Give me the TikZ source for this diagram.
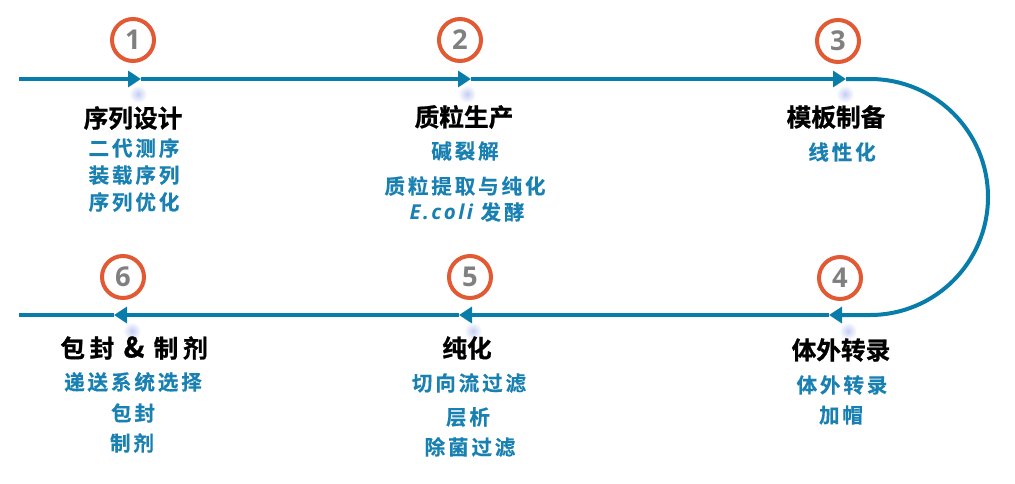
\documentclass[tikz,border=0pt]{standalone}
\usepackage{fontspec}
\newfontfamily\cjk{Noto Sans CJK SC Bold}[FakeBold=0.9]
\newfontfamily\cjksub{Noto Sans CJK SC Bold}[LetterSpace=14,FakeBold=0.4]
\newfontfamily\numfont{Open Sans Bold}
\newfontfamily\ecolifont{Open Sans Bold Italic}[LetterSpace=12]
\usetikzlibrary{arrows.meta}
\definecolor{flowblue}{RGB}{8,125,170}
\definecolor{subblue}{RGB}{25,128,178}
\definecolor{ringred}{RGB}{226,90,52}
\definecolor{numgray}{RGB}{128,128,128}
\definecolor{glow}{RGB}{196,206,244}
\begin{document}
\begin{tikzpicture}[x=0.75pt,y=-0.75pt,
  flow/.style={draw=flowblue,line width=3pt},
  tip/.style={-{Triangle[length=9.75pt,width=12pt]}},
  ring/.style={circle,draw=ringred,line width=3pt,fill=white,minimum size=31.5pt,inner sep=0pt,
    font=\numfont\fontsize{20.5}{20.5}\selectfont,text=numgray},
  title/.style={font=\cjk\fontsize{18.5}{20}\selectfont,text=black,inner sep=0pt},
  sub/.style={font=\cjksub\fontsize{15.4}{16}\selectfont,text=subblue,inner sep=0pt}]
\useasboundingbox (0,0) rectangle (1015,483);
% path coordinates
\coordinate (L1) at (19,79);
\coordinate (A1) at (141,79);
\coordinate (A2) at (471,79);
\coordinate (A3) at (846,79);
\coordinate (R1) at (870,79);
\coordinate (A4) at (829,315);
\coordinate (A5) at (459,315);
\coordinate (A6) at (114,315);
\coordinate (L2) at (19,315);
% glows
\foreach \gx/\gy in {138/94,467/94,845/94,848/331,473/331,132/331}
  \shade[inner color=glow,outer color=white] (\gx,\gy) circle[radius=9];
% flow line
\draw[flow,tip] (L1) -- (A1);
\draw[flow,tip] (A1) -- (A2);
\draw[flow,tip] (A2) -- (A3);
\draw[flow,tip] (A3) -- (R1) arc[start angle=-90,end angle=90,radius=118] -- (A4);
\draw[flow,tip] (A4) -- (A5);
\draw[flow,tip] (A5) -- (A6);
\draw[flow] (A6) -- (L2);
% rings
\node[ring] (n1) at (133,40) {1};
\node[ring] (n2) at (460,40) {2};
\node[ring] (n3) at (838,41) {3};
\node[ring] (n4) at (840,278) {4};
\node[ring] (n5) at (470,277) {5};
\node[ring] (n6) at (123,277) {6};
% block 1
\node[title] (t1) at (133,118) {序列设计};
\node[sub] (s1a) at (134,148) {二代测序};
\node[sub] (s1b) at (134,175) {装载序列};
\node[sub] (s1c) at (134,202) {序列优化};
% block 2
\node[title] (t2) at (464,117) {质粒生产};
\node[sub] (s2a) at (465,151) {碱裂解};
\node[sub] (s2b) at (465,186) {质粒提取与纯化};
\node[sub] (s2c) at (467,212) {{\ecolifont E.coli} 发酵};
% block 3
\node[title] (t3) at (836,117) {模板制备};
\node[sub] (s3a) at (842,152) {线性化};
% block 4
\node[title] (t4) at (841,350) {体外转录};
\node[sub] (s4a) at (842,385) {体外转录};
\node[sub] (s4b) at (841,415) {加帽};
% block 5
\node[title] (t5) at (467,348) {纯化};
\node[sub] (s5a) at (469,383) {切向流过滤};
\node[sub] (s5b) at (468,417) {层析};
\node[sub] (s5c) at (470,447) {除菌过滤};
% block 6
\node[title] (t6) at (134,348) {包\kern3.5pt封\kern7pt{\fontsize{21}{21}\selectfont\&}\kern7pt制\kern3.5pt剂};
\node[sub] (s6a) at (133,382) {递送系统选择};
\node[sub] (s6b) at (133,413) {包封};
\node[sub] (s6c) at (132,443) {制剂};
\end{tikzpicture}
\end{document}
